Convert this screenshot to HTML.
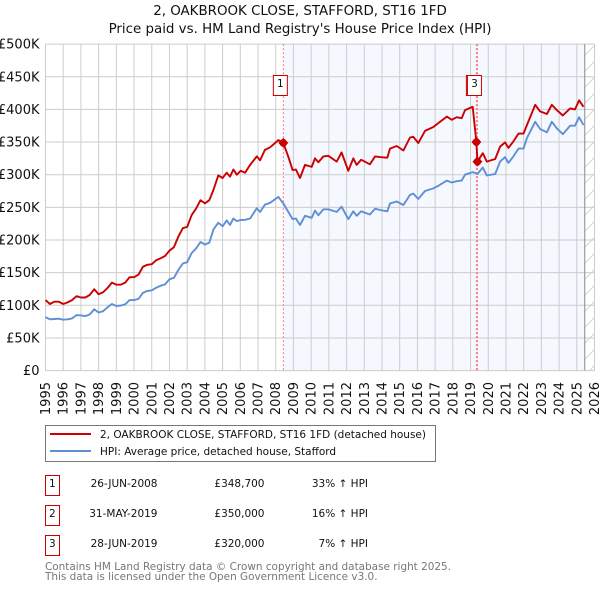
<!DOCTYPE html>
<html>
<head>
<meta charset="utf-8">
<title>2, OAKBROOK CLOSE, STAFFORD, ST16 1FD</title>
<style>
html,body{margin:0;padding:0;background:#fff}
svg{display:block}
text{font-family:"DejaVu Sans","Liberation Sans",sans-serif;fill:#111}
</style>
</head>
<body>
<svg id="chart" xmlns="http://www.w3.org/2000/svg" width="600" height="590" viewBox="0 0 600 590">
<defs>
<pattern id="hatch" width="16" height="16" patternUnits="userSpaceOnUse"><path d="M-4 4L4 -4M0 16L16 0M12 20L20 12" stroke="#d4d4d4" stroke-width="1" fill="none"/></pattern>
</defs>
<text x="300" y="15" text-anchor="middle" font-size="13.4">2, OAKBROOK CLOSE, STAFFORD, ST16 1FD</text>
<text x="300" y="33" text-anchor="middle" font-size="13.4">Price paid vs. HM Land Registry's House Price Index (HPI)</text>
<g id="plot"></g>
<g>
<rect x="45.5" y="425.5" width="390" height="36" fill="#fff" stroke="#777" stroke-width="1"/>
<line x1="50" x2="91" y1="434" y2="434" stroke="#cc0000" stroke-width="1.9"/>
<text x="100" y="438" font-size="10.5">2, OAKBROOK CLOSE, STAFFORD, ST16 1FD (detached house)</text>
<line x1="50" x2="91" y1="451" y2="451" stroke="#5f8fd4" stroke-width="1.9"/>
<text x="100" y="455" font-size="10.5">HPI: Average price, detached house, Stafford</text>
</g>
<g font-size="10.5">
<rect x="45.5" y="475.5" width="14" height="20" fill="#fff" stroke="#cc0000"/>
<text x="52.3" y="487" text-anchor="middle">1</text>
<text x="157.5" y="487" text-anchor="end">26-JUN-2008</text>
<text x="264.5" y="487" text-anchor="end">£348,700</text>
<text x="368" y="487" text-anchor="end">33% ↑ HPI</text>
<rect x="45.5" y="505.5" width="14" height="20" fill="#fff" stroke="#cc0000"/>
<text x="52.3" y="517" text-anchor="middle">2</text>
<text x="157.5" y="517" text-anchor="end">31-MAY-2019</text>
<text x="264.5" y="517" text-anchor="end">£350,000</text>
<text x="368" y="517" text-anchor="end">16% ↑ HPI</text>
<rect x="45.5" y="535.5" width="14" height="20" fill="#fff" stroke="#cc0000"/>
<text x="52.3" y="547" text-anchor="middle">3</text>
<text x="157.5" y="547" text-anchor="end">28-JUN-2019</text>
<text x="264.5" y="547" text-anchor="end">£320,000</text>
<text x="368" y="547" text-anchor="end">7% ↑ HPI</text>
</g>
<text x="45" y="570" font-size="10.45" style="fill:#777">Contains HM Land Registry data © Crown copyright and database right 2025.</text>
<text x="45" y="580" font-size="10.45" style="fill:#777">This data is licensed under the Open Government Licence v3.0.</text>
</svg>
<script>
var yearTicks = [1995,1996,1997,1998,1999,2000,2001,2002,2003,2004,2005,2006,2007,2008,2009,2010,2011,2012,2013,2014,2015,2016,2017,2018,2019,2020,2021,2022,2023,2024,2025,2026];
var priceTicks = [0,50,100,150,200,250,300,350,400,450,500];
var priceTickLabels = ['£0','£50K','£100K','£150K','£200K','£250K','£300K','£350K','£400K','£450K','£500K'];
var seriesDates = [1995,1995.25,1995.5,1995.75,1996,1996.25,1996.5,1996.75,1997,1997.25,1997.5,1997.75,1998,1998.25,1998.5,1998.75,1999,1999.25,1999.5,1999.75,2000,2000.25,2000.5,2000.75,2001,2001.25,2001.5,2001.75,2002,2002.25,2002.5,2002.75,2003,2003.25,2003.5,2003.75,2004,2004.25,2004.48,2004.76,2005,2005.23,2005.42,2005.61,2005.8,2006.02,2006.27,2006.55,2006.93,2007.12,2007.39,2007.68,2008.15,2008.43,2008.71,2008.95,2009.14,2009.37,2009.65,2010.03,2010.22,2010.41,2010.69,2010.97,2011.44,2011.72,2012.1,2012.38,2012.57,2012.82,2013.32,2013.61,2013.89,2014.3,2014.45,2014.83,2015.21,2015.58,2015.77,2016.05,2016.43,2016.9,2017.18,2017.66,2017.94,2018.22,2018.5,2018.69,2019.12,2019.33,2019.39,2019.69,2019.92,2020.39,2020.67,2020.95,2021.14,2021.42,2021.71,2021.99,2022.18,2022.65,2022.93,2023.31,2023.59,2023.87,2024.21,2024.62,2024.9,2025.13,2025.38];
var pricePaidSeries = [108,102,105.5,105.5,102,104.5,108,114,112,112,116,124.5,117,120,126.5,134.7,131.6,131.6,134.7,143,143,147,159,162,163,169,172,175.5,183.7,189,205,218,220,238,248,261,256,261,276.5,299,295,303,297,308,300,306,303,315,328,322,338,342,353,348.7,327.5,307,308,295,315,312,325,319,328,329,320,334,306,325,315,323,316,328,327,326,340,344,337,357,358,348.5,367,373,379,389,384,388,386.5,399,404,350,320,333,320,324,343,349.5,341,351,363,363,376,407,397,393,407,399,390.6,401.5,400,414,404];
var hpiSeries = [82,78.5,79,79.5,78,78.5,80,85,84.5,83.5,86,94,89,91,97,102,99,99.5,101.5,108,108,110,119,122,123,127,130,132,140,142,154,164,166,180,187,197,193,196,216,226.5,221,230,223,233,229,230.6,231,233,248.5,243,254,257,266,256,243,232,233,223,237,234,245,238,247,247,243,251,232,244,237,244,239,248,246,244,256,259,253.6,269,271,263,275,279,283,291,288,290,291,300,304,302,301,311,299,301,320,327,318,328,340,340,356,381,370,365,381,371,362,375,375,388,376];
var saleDates = [2008.43,2019.33,2019.39];
var salePrices = [348.7,350,320];
var saleLabels = ['1','2','3'];
var hpiEnd = 2025.45;

var NS = 'http://www.w3.org/2000/svg';
var plot = document.getElementById('plot');
function xScale(v){ return 45.5 + (v - 1995) * 17.71; }
function yScale(v){ return 370.6 - v * 0.653; }
function add(parent, tag, attrs){
  var el = document.createElementNS(NS, tag);
  for (var k in attrs) el.setAttribute(k, attrs[k]);
  parent.appendChild(el);
  return el;
}
var plotTop = yScale(500), plotBottom = yScale(0), plotLeft = xScale(1995), plotRight = xScale(2026);

var shade = add(plot, 'rect', {x:xScale(saleDates[0]), y:plotTop, width:xScale(hpiEnd)-xScale(saleDates[0]), height:plotBottom-plotTop, fill:'#f5f8ff'});


var hatch = add(plot, 'rect', {x:xScale(hpiEnd), y:plotTop, width:plotRight-xScale(hpiEnd), height:plotBottom-plotTop, fill:'url(#hatch)'});



priceTicks.forEach(function(t, i){
  var g = add(plot, 'line', {x1:plotLeft, x2:plotRight, y1:yScale(t), y2:yScale(t), stroke:'#cccccc', 'stroke-width':1});
  
  
  var l = add(plot, 'text', {x:39.5, y:yScale(t)+4.5, 'text-anchor':'end', 'font-size':13});
  l.textContent = priceTickLabels[i];
  
  
});
yearTicks.forEach(function(t){
  var g = add(plot, 'line', {x1:xScale(t), x2:xScale(t), y1:plotTop, y2:plotBottom, stroke:'#cccccc', 'stroke-width':1});
  
  
  var x = xScale(t);
  var l = add(plot, 'text', {x:0, y:0, 'text-anchor':'end', 'font-size':13, transform:'translate('+(x+4.5)+',382) rotate(-90)'});
  l.textContent = String(t);
  
  
});
var endLine = add(plot, 'line', {x1:xScale(hpiEnd), x2:xScale(hpiEnd), y1:plotTop, y2:plotBottom, stroke:'#888888', 'stroke-width':1});



saleDates.forEach(function(d, i){
  var v = add(plot, 'line', {x1:xScale(d), x2:xScale(d), y1:plotTop, y2:plotBottom, stroke:'#ff7777', 'stroke-width':1, 'stroke-dasharray':'2 2'});
  
  
});

function pathFor(values){
  return values.map(function(v, i){ return xScale(seriesDates[i]).toFixed(1) + ',' + yScale(v).toFixed(1); }).join(' ');
}
var hpiLine = add(plot, 'polyline', {points:pathFor(hpiSeries), fill:'none', stroke:'#5f8fd4', 'stroke-width':1.9, 'stroke-linejoin':'round'});


var priceLine = add(plot, 'polyline', {points:pathFor(pricePaidSeries), fill:'none', stroke:'#cc0000', 'stroke-width':1.9, 'stroke-linejoin':'round'});



saleDates.forEach(function(d, i){
  var cx = xScale(d), cy = yScale(salePrices[i]), r = 5;
  var m = add(plot, 'polygon', {points:[cx-r,cy,cx,cy-r,cx+r,cy,cx,cy+r].join(' '), fill:'#cc0000'});
  
  
  var c = add(plot, 'circle', {cx:cx, cy:cy, r:3.8, fill:'#cc0000'});
  
  
  var bx = cx - 10;
  var b = add(plot, 'rect', {x:bx, y:75.5, width:14, height:20, fill:'#fff', stroke:'#cc0000', 'stroke-width':1});
  
  
  var t = add(plot, 'text', {x:bx+7, y:87, 'text-anchor':'middle', 'font-size':10.5});
  t.textContent = saleLabels[i];
  
  
});
</script>
</body>
</html>
